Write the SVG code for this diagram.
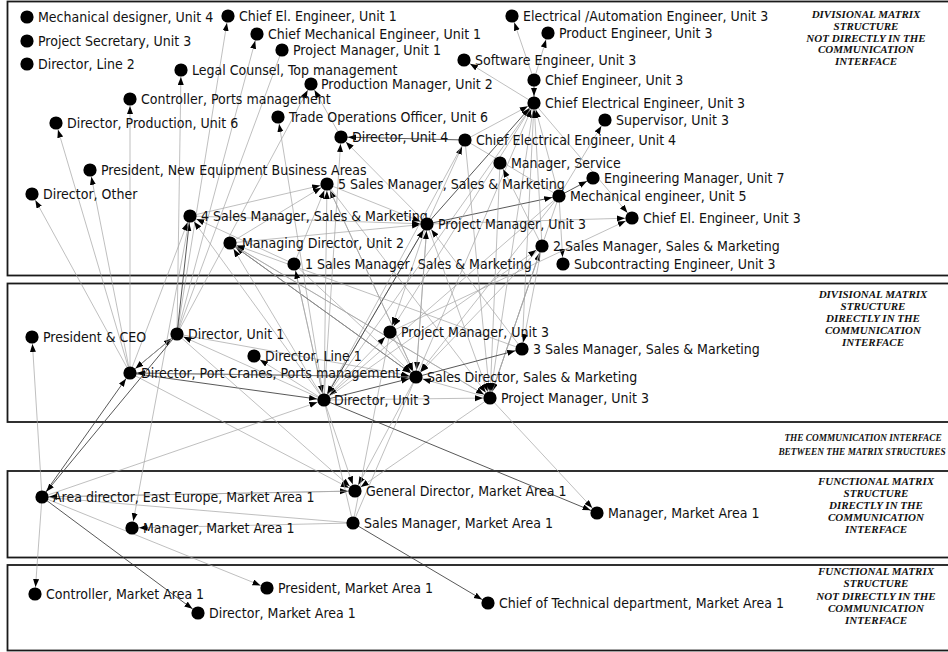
<svg xmlns="http://www.w3.org/2000/svg" width="948" height="652" viewBox="0 0 948 652">
  <style>
    .zone { fill: none; stroke: #1a1a1a; stroke-width: 1.8; }
    .tag { font-family: "Liberation Serif", "Times New Roman", serif; font-size: 11px; font-weight: bold; font-style: italic; text-anchor: middle; fill: #111; }
    .tag.wide { font-size: 9.3px; }
    .node circle { fill: #000; }
    .node text { font-family: "DejaVu Sans Condensed", "DejaVu Sans", sans-serif; font-stretch: condensed; font-size: 14px; fill: #111; }
    .edges line { stroke: #a3a3a3; stroke-width: 0.7; marker-end: url(#ah); }
    .edges line.dk { stroke: #3a3a3a; stroke-width: 0.85; }
    .edges line.na { marker-end: none; }
  </style>
  <defs>
    <marker id="ah" markerWidth="10" markerHeight="8" refX="15" refY="3" orient="auto" markerUnits="userSpaceOnUse">
      <path d="M0,0 L8,3 L0,6 z" fill="#000"/>
    </marker>
  </defs>
  <rect width="948" height="652" fill="#fff"/>

  <!-- structure zones -->
  <g id="zones">
    <rect class="zone" x="7.5" y="1.5" width="950" height="274"/>
    <rect class="zone" x="7.5" y="283.5" width="950" height="138.5"/>
    <rect class="zone" x="7.5" y="471" width="950" height="86.5"/>
    <rect class="zone" x="7.5" y="565" width="950" height="85.5"/>
  </g>

  <g id="zone-tags">
    <text class="tag" x="866" y="18"><tspan x="866">DIVISIONAL MATRIX</tspan><tspan x="866" dy="11.8">STRUCTURE</tspan><tspan x="866" dy="11.8">NOT DIRECTLY IN THE</tspan><tspan x="866" dy="11.8">COMMUNICATION</tspan><tspan x="866" dy="11.8">INTERFACE</tspan></text>
    <text class="tag" x="873" y="298"><tspan x="873">DIVISIONAL MATRIX</tspan><tspan x="873" dy="12">STRUCTURE</tspan><tspan x="873" dy="12">DIRECTLY IN THE</tspan><tspan x="873" dy="12">COMMUNICATION</tspan><tspan x="873" dy="12">INTERFACE</tspan></text>
    <text class="tag wide" x="863" y="441">THE COMMUNICATION INTERFACE</text>
    <text class="tag wide" x="862" y="455">BETWEEN THE MATRIX STRUCTURES</text>
    <text class="tag" x="876" y="485"><tspan x="876">FUNCTIONAL MATRIX</tspan><tspan x="876" dy="12">STRUCTURE</tspan><tspan x="876" dy="12">DIRECTLY IN THE</tspan><tspan x="876" dy="12">COMMUNICATION</tspan><tspan x="876" dy="12">INTERFACE</tspan></text>
    <text class="tag" x="876" y="575"><tspan x="876">FUNCTIONAL MATRIX</tspan><tspan x="876" dy="12.3">STRUCTURE</tspan><tspan x="876" dy="12.3">NOT DIRECTLY IN THE</tspan><tspan x="876" dy="12.3">COMMUNICATION</tspan><tspan x="876" dy="12.3">INTERFACE</tspan></text>
  </g>

  <!-- connectors: drawn centre to centre, arrowhead stops at the target disc -->
  <g id="connectors" class="edges">
    <line x1="177" y1="334" x2="228" y2="16"/>
    <line x1="177" y1="334" x2="257" y2="34"/>
    <line x1="177" y1="334" x2="282" y2="50" class="na"/>
    <line x1="177" y1="334" x2="181" y2="70"/>
    <line x1="130" y1="373" x2="130" y2="99"/>
    <line x1="130" y1="373" x2="56" y2="123"/>
    <line x1="130" y1="373" x2="90" y2="170"/>
    <line x1="130" y1="373" x2="32" y2="194"/>
    <line x1="177" y1="334" x2="190" y2="216" class="dk"/>
    <line x1="130" y1="373" x2="190" y2="216"/>
    <line x1="177" y1="334" x2="311" y2="84"/>
    <line x1="324" y1="400" x2="278" y2="117"/>
    <line x1="341" y1="137" x2="311" y2="84"/>
    <line x1="465" y1="140" x2="341" y2="137" class="dk"/>
    <line x1="427" y1="224" x2="341" y2="137"/>
    <line x1="294" y1="264" x2="190" y2="216"/>
    <line x1="230" y1="243" x2="327" y2="184"/>
    <line x1="190" y1="216" x2="327" y2="184"/>
    <line x1="294" y1="264" x2="327" y2="184"/>
    <line x1="324" y1="400" x2="327" y2="184"/>
    <line x1="416" y1="377" x2="327" y2="184"/>
    <line x1="327" y1="184" x2="427" y2="224"/>
    <line x1="230" y1="243" x2="427" y2="224"/>
    <line x1="190" y1="216" x2="427" y2="224"/>
    <line x1="427" y1="224" x2="465" y2="140"/>
    <line x1="427" y1="224" x2="534" y2="103" class="dk"/>
    <line x1="465" y1="140" x2="534" y2="103"/>
    <line x1="324" y1="400" x2="534" y2="103"/>
    <line x1="416" y1="377" x2="534" y2="103"/>
    <line x1="522" y1="349" x2="534" y2="103"/>
    <line x1="559" y1="196" x2="534" y2="103"/>
    <line x1="534" y1="80" x2="534" y2="103" class="dk"/>
    <line x1="534" y1="80" x2="512" y2="16"/>
    <line x1="534" y1="80" x2="548" y2="33"/>
    <line x1="534" y1="103" x2="464" y2="60"/>
    <line x1="534" y1="103" x2="632" y2="218"/>
    <line x1="559" y1="196" x2="605" y2="120"/>
    <line x1="559" y1="196" x2="593" y2="178" class="dk"/>
    <line x1="427" y1="224" x2="559" y2="196" class="dk"/>
    <line x1="559" y1="196" x2="563" y2="264"/>
    <line x1="542" y1="246" x2="500" y2="163"/>
    <line x1="465" y1="140" x2="559" y2="196" class="na"/>
    <line x1="390" y1="332" x2="632" y2="218"/>
    <line x1="427" y1="224" x2="632" y2="218"/>
    <line x1="542" y1="246" x2="534" y2="103"/>
    <line x1="490" y1="398" x2="542" y2="246"/>
    <line x1="542" y1="246" x2="416" y2="377"/>
    <line x1="427" y1="224" x2="324" y2="400"/>
    <line x1="324" y1="400" x2="427" y2="224" class="dk"/>
    <line x1="427" y1="224" x2="416" y2="377"/>
    <line x1="416" y1="377" x2="427" y2="224"/>
    <line x1="427" y1="224" x2="490" y2="398"/>
    <line x1="427" y1="224" x2="390" y2="332"/>
    <line x1="522" y1="349" x2="427" y2="224"/>
    <line x1="324" y1="400" x2="230" y2="243"/>
    <line x1="416" y1="377" x2="230" y2="243" class="dk"/>
    <line x1="490" y1="398" x2="230" y2="243"/>
    <line x1="522" y1="349" x2="230" y2="243"/>
    <line x1="294" y1="264" x2="324" y2="400"/>
    <line x1="324" y1="400" x2="294" y2="264"/>
    <line x1="294" y1="264" x2="416" y2="377"/>
    <line x1="324" y1="400" x2="190" y2="216"/>
    <line x1="230" y1="243" x2="490" y2="398"/>
    <line x1="230" y1="243" x2="416" y2="377"/>
    <line x1="324" y1="400" x2="341" y2="137"/>
    <line x1="465" y1="140" x2="490" y2="398"/>
    <line x1="465" y1="140" x2="324" y2="400"/>
    <line x1="327" y1="184" x2="416" y2="377"/>
    <line x1="327" y1="184" x2="490" y2="398"/>
    <line x1="500" y1="163" x2="490" y2="398"/>
    <line x1="559" y1="196" x2="490" y2="398"/>
    <line x1="559" y1="196" x2="324" y2="400"/>
    <line x1="559" y1="196" x2="416" y2="377"/>
    <line x1="542" y1="246" x2="490" y2="398" class="na"/>
    <line x1="534" y1="103" x2="490" y2="398"/>
    <line x1="534" y1="103" x2="390" y2="332"/>
    <line x1="542" y1="246" x2="522" y2="349"/>
    <line x1="416" y1="377" x2="522" y2="349" class="dk"/>
    <line x1="324" y1="400" x2="542" y2="246"/>
    <line x1="177" y1="334" x2="416" y2="377"/>
    <line x1="324" y1="400" x2="177" y2="334"/>
    <line x1="130" y1="373" x2="324" y2="400" class="dk"/>
    <line x1="130" y1="373" x2="416" y2="377" class="dk"/>
    <line x1="416" y1="377" x2="130" y2="373"/>
    <line x1="130" y1="373" x2="177" y2="334" class="dk"/>
    <line x1="177" y1="334" x2="130" y2="373"/>
    <line x1="324" y1="400" x2="254" y2="356"/>
    <line x1="324" y1="400" x2="416" y2="377" class="dk"/>
    <line x1="490" y1="398" x2="416" y2="377"/>
    <line x1="324" y1="400" x2="490" y2="398"/>
    <line x1="324" y1="400" x2="390" y2="332"/>
    <line x1="390" y1="332" x2="416" y2="377"/>
    <line x1="324" y1="400" x2="355" y2="491"/>
    <line x1="416" y1="377" x2="355" y2="491"/>
    <line x1="490" y1="398" x2="355" y2="491"/>
    <line x1="177" y1="334" x2="355" y2="491"/>
    <line x1="130" y1="373" x2="355" y2="491"/>
    <line x1="324" y1="400" x2="353" y2="523" class="na"/>
    <line x1="416" y1="377" x2="353" y2="523" class="na"/>
    <line x1="390" y1="332" x2="353" y2="523" class="na"/>
    <line x1="324" y1="400" x2="597" y2="513" class="dk"/>
    <line x1="490" y1="398" x2="597" y2="513"/>
    <line x1="42" y1="497" x2="355" y2="491"/>
    <line x1="355" y1="491" x2="42" y2="497"/>
    <line x1="42" y1="497" x2="353" y2="523" class="na"/>
    <line x1="353" y1="523" x2="132" y2="528"/>
    <line x1="190" y1="216" x2="132" y2="528"/>
    <line x1="42" y1="497" x2="32" y2="337"/>
    <line x1="42" y1="497" x2="130" y2="373" class="dk"/>
    <line x1="177" y1="334" x2="42" y2="497" class="dk"/>
    <line x1="42" y1="497" x2="324" y2="400"/>
    <line x1="42" y1="497" x2="35" y2="594"/>
    <line x1="42" y1="497" x2="198" y2="613" class="dk"/>
    <line x1="42" y1="497" x2="267" y2="588"/>
    <line x1="353" y1="523" x2="488" y2="603" class="dk"/>
  </g>

  <!-- nodes -->
  <g id="n-mech4" class="node"><circle cx="27" cy="17" r="6.6"/><text x="38" y="22">Mechanical designer, Unit 4</text></g>
  <g id="n-psec3" class="node"><circle cx="27" cy="41" r="6.6"/><text x="38" y="46">Project Secretary, Unit 3</text></g>
  <g id="n-dirl2" class="node"><circle cx="27" cy="64" r="6.6"/><text x="38" y="69">Director, Line 2</text></g>
  <g id="n-cee1" class="node"><circle cx="228" cy="16" r="6.6"/><text x="239" y="21">Chief El. Engineer, Unit 1</text></g>
  <g id="n-cme1" class="node"><circle cx="257" cy="34" r="6.6"/><text x="268" y="39">Chief Mechanical Engineer, Unit 1</text></g>
  <g id="n-pm1" class="node"><circle cx="282" cy="50" r="6.6"/><text x="293" y="55">Project Manager, Unit 1</text></g>
  <g id="n-legal" class="node"><circle cx="181" cy="70" r="6.6"/><text x="192" y="75">Legal Counsel, Top management</text></g>
  <g id="n-prod2" class="node"><circle cx="311" cy="84" r="6.6"/><text x="321" y="89">Production Manager, Unit 2</text></g>
  <g id="n-ctrlp" class="node"><circle cx="130" cy="99" r="6.6"/><text x="141" y="104">Controller, Ports management</text></g>
  <g id="n-trade6" class="node"><circle cx="278" cy="117" r="6.6"/><text x="289" y="122">Trade Operations Officer, Unit 6</text></g>
  <g id="n-dprod6" class="node"><circle cx="56" cy="123" r="6.6"/><text x="67" y="128">Director, Production, Unit 6</text></g>
  <g id="n-elaut3" class="node"><circle cx="512" cy="16" r="6.6"/><text x="523" y="21">Electrical /Automation Engineer, Unit 3</text></g>
  <g id="n-prodeng3" class="node"><circle cx="548" cy="33" r="6.6"/><text x="559" y="38">Product Engineer, Unit 3</text></g>
  <g id="n-sw3" class="node"><circle cx="464" cy="60" r="6.6"/><text x="475" y="65">Software Engineer, Unit 3</text></g>
  <g id="n-ce3" class="node"><circle cx="534" cy="80" r="6.6"/><text x="545" y="85">Chief Engineer, Unit 3</text></g>
  <g id="n-cee3" class="node"><circle cx="534" cy="103" r="6.6"/><text x="545" y="108">Chief Electrical Engineer, Unit 3</text></g>
  <g id="n-sup3" class="node"><circle cx="605" cy="120" r="6.6"/><text x="616" y="125">Supervisor, Unit 3</text></g>
  <g id="n-dir4" class="node"><circle cx="341" cy="137" r="6.6"/><text x="352" y="142">Director, Unit 4</text></g>
  <g id="n-cee4" class="node"><circle cx="465" cy="140" r="6.6"/><text x="476" y="145">Chief Electrical Engineer, Unit 4</text></g>
  <g id="n-mserv" class="node"><circle cx="500" cy="163" r="6.6"/><text x="511" y="168">Manager, Service</text></g>
  <g id="n-pneba" class="node"><circle cx="90" cy="170" r="6.6"/><text x="101" y="175">President, New Equipment Business Areas</text></g>
  <g id="n-dother" class="node"><circle cx="32" cy="194" r="6.6"/><text x="43" y="199">Director, Other</text></g>
  <g id="n-s5" class="node"><circle cx="327" cy="184" r="6.6"/><text x="338" y="189">5 Sales Manager, Sales &amp; Marketing</text></g>
  <g id="n-em7" class="node"><circle cx="593" cy="178" r="6.6"/><text x="604" y="183">Engineering Manager, Unit 7</text></g>
  <g id="n-me5" class="node"><circle cx="559" cy="196" r="6.6"/><text x="570" y="201">Mechanical engineer, Unit 5</text></g>
  <g id="n-celu3" class="node"><circle cx="632" cy="218" r="6.6"/><text x="643" y="223">Chief El. Engineer, Unit 3</text></g>
  <g id="n-s4" class="node"><circle cx="190" cy="216" r="6.6"/><text x="201" y="221">4 Sales Manager, Sales &amp; Marketing</text></g>
  <g id="n-pmt" class="node"><circle cx="427" cy="224" r="6.6"/><text x="438" y="229">Project Manager, Unit 3</text></g>
  <g id="n-md2" class="node"><circle cx="230" cy="243" r="6.6"/><text x="242" y="248">Managing Director, Unit 2</text></g>
  <g id="n-s2" class="node"><circle cx="542" cy="246" r="6.6"/><text x="553" y="251">2 Sales Manager, Sales &amp; Marketing</text></g>
  <g id="n-s1" class="node"><circle cx="294" cy="264" r="6.6"/><text x="305" y="269">1 Sales Manager, Sales &amp; Marketing</text></g>
  <g id="n-sub3" class="node"><circle cx="563" cy="264" r="6.6"/><text x="574" y="269">Subcontracting Engineer, Unit 3</text></g>

  <g id="n-ceo" class="node"><circle cx="32" cy="337" r="6.6"/><text x="43" y="342">President &amp; CEO</text></g>
  <g id="n-d1" class="node"><circle cx="177" cy="334" r="6.6"/><text x="188" y="339">Director, Unit 1</text></g>
  <g id="n-dl1" class="node"><circle cx="254" cy="356" r="6.6"/><text x="265" y="361">Director, Line 1</text></g>
  <g id="n-pc" class="node"><circle cx="130" cy="373" r="6.6"/><text x="141" y="378">Director, Port Cranes, Ports management</text></g>
  <g id="n-pmm" class="node"><circle cx="390" cy="332" r="6.6"/><text x="401" y="337">Project Manager, Unit 3</text></g>
  <g id="n-s3" class="node"><circle cx="522" cy="349" r="6.6"/><text x="533" y="354">3 Sales Manager, Sales &amp; Marketing</text></g>
  <g id="n-sd" class="node"><circle cx="416" cy="377" r="6.6"/><text x="427" y="382">Sales Director, Sales &amp; Marketing</text></g>
  <g id="n-d3" class="node"><circle cx="324" cy="400" r="6.6"/><text x="334" y="405">Director, Unit 3</text></g>
  <g id="n-pml" class="node"><circle cx="490" cy="398" r="6.6"/><text x="501" y="403">Project Manager, Unit 3</text></g>

  <g id="n-ad" class="node"><circle cx="42" cy="497" r="6.6"/><text x="53" y="502">Area director, East Europe, Market Area 1</text></g>
  <g id="n-mma" class="node"><circle cx="132" cy="528" r="6.6"/><text x="143" y="533">Manager, Market Area 1</text></g>
  <g id="n-gd" class="node"><circle cx="355" cy="491" r="6.6"/><text x="366" y="496">General Director, Market Area 1</text></g>
  <g id="n-smma" class="node"><circle cx="353" cy="523" r="6.6"/><text x="364" y="528">Sales Manager, Market Area 1</text></g>
  <g id="n-mmar" class="node"><circle cx="597" cy="513" r="6.6"/><text x="608" y="518">Manager, Market Area 1</text></g>

  <g id="n-cma" class="node"><circle cx="35" cy="594" r="6.6"/><text x="46" y="599">Controller, Market Area 1</text></g>
  <g id="n-pma" class="node"><circle cx="267" cy="588" r="6.6"/><text x="278" y="593">President, Market Area 1</text></g>
  <g id="n-dma" class="node"><circle cx="198" cy="613" r="6.6"/><text x="209" y="618">Director, Market Area 1</text></g>
  <g id="n-ctd" class="node"><circle cx="488" cy="603" r="6.6"/><text x="499" y="608">Chief of Technical department, Market Area 1</text></g>
</svg>
